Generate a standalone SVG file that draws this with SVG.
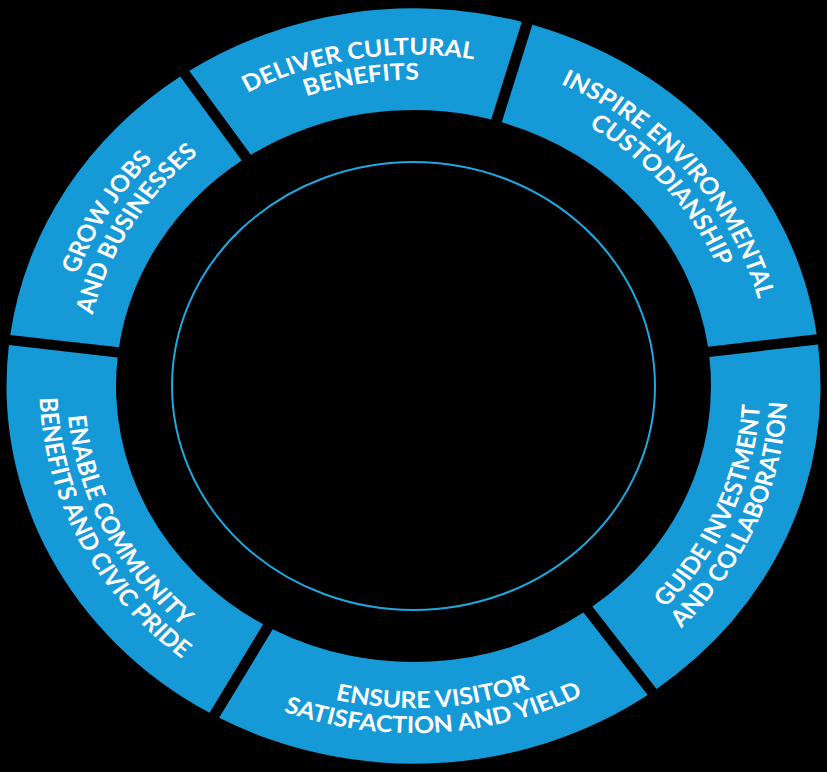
<svg xmlns="http://www.w3.org/2000/svg" xmlns:xlink="http://www.w3.org/1999/xlink" width="827" height="772" viewBox="0 0 827 772">
<style>
.seg{fill:#1699d7}
.lbl{font-family:Lato,"Open Sans","Liberation Sans",sans-serif;font-weight:700;font-size:25px;fill:#ffffff}
.ring{fill:none;stroke:#1fa8e0;stroke-width:2}
</style>
<defs>
<path id="out1" d="M -344.84 -92.40 A 357 357 0 0 1 344.84 -92.40"/>
<path id="out2" d="M -318.76 -85.41 A 330 330 0 0 1 318.76 -85.41"/>
<path id="in1" d="M -335.18 89.81 A 347 347 0 0 0 335.18 89.81"/>
<path id="in2" d="M -361.26 96.80 A 374 374 0 0 0 361.26 96.80"/>
</defs>
<rect x="0" y="0" width="827" height="772" fill="#000000"/>
<ellipse class="ring" cx="413.5" cy="386" rx="241.5" ry="224"/>
<g id="connectors"></g>
<g transform="translate(413.5,386) scale(1,0.928)">
<g id="deliver">
<path class="seg" d="M -224.2 -339.7 A 407 407 0 0 1 108.26 -392.34 L 77.71 -287.17 A 297.5 297.5 0 0 0 -162.64 -249.11 Z"/>
<text class="lbl" text-anchor="middle" transform="rotate(-9)"><textPath xlink:href="#out1" href="#out1" startOffset="50%">DELIVER CULTURAL</textPath></text>
<text class="lbl" text-anchor="middle" transform="rotate(-9)"><textPath xlink:href="#out2" href="#out2" startOffset="50%">BENEFITS</textPath></text>
</g>
<g id="inspire">
<path class="seg" d="M 118.82 -389.27 A 407 407 0 0 1 403.16 -55.76 L 294.49 -42.22 A 297.5 297.5 0 0 0 88.27 -284.10 Z"/>
<text class="lbl" text-anchor="middle" transform="rotate(49.55)"><textPath xlink:href="#out1" href="#out1" startOffset="50%">INSPIRE ENVIRONMENTAL</textPath></text>
<text class="lbl" text-anchor="middle" transform="rotate(49.55)"><textPath xlink:href="#out2" href="#out2" startOffset="50%">CUSTODIANSHIP</textPath></text>
</g>
<g id="guide">
<path class="seg" d="M 404.52 -44.85 A 407 407 0 0 1 243.08 326.43 L 178.87 237.72 A 297.5 297.5 0 0 0 295.85 -31.31 Z"/>
<text class="lbl" text-anchor="middle" transform="rotate(-66.5)"><textPath xlink:href="#in1" href="#in1" startOffset="50%">GUIDE INVESTMENT</textPath></text>
<text class="lbl" text-anchor="middle" transform="rotate(-66.5)"><textPath xlink:href="#in2" href="#in2" startOffset="50%">AND COLLABORATION</textPath></text>
</g>
<g id="ensure">
<path class="seg" d="M 234.18 332.88 A 407 407 0 0 1 -194.37 357.59 L -140.77 262.09 A 297.5 297.5 0 0 0 169.96 244.17 Z"/>
<text class="lbl" text-anchor="middle" transform="rotate(-3.3)"><textPath xlink:href="#in1" href="#in1" startOffset="50%">ENSURE VISITOR</textPath></text>
<text class="lbl" text-anchor="middle" transform="rotate(-3.3)"><textPath xlink:href="#in2" href="#in2" startOffset="50%">SATISFACTION AND YIELD</textPath></text>
</g>
<g id="enable">
<path class="seg" d="M -203.96 352.21 A 407 407 0 0 1 -404.60 -44.14 L -295.90 -30.79 A 297.5 297.5 0 0 0 -150.36 256.71 Z"/>
<text class="lbl" text-anchor="middle" transform="rotate(63.15)"><textPath xlink:href="#in1" href="#in1" startOffset="50%">ENABLE COMMUNITY</textPath></text>
<text class="lbl" text-anchor="middle" transform="rotate(63.15)"><textPath xlink:href="#in2" href="#in2" startOffset="50%">BENEFITS AND CIVIC PRIDE</textPath></text>
</g>
<g id="grow">
<path class="seg" d="M -403.26 -55.05 A 407 407 0 0 1 -233.29 -333.50 L -171.74 -242.93 A 297.5 297.5 0 0 0 -294.56 -41.71 Z"/>
<text class="lbl" text-anchor="middle" transform="rotate(-58.6)"><textPath xlink:href="#out1" href="#out1" startOffset="50%">GROW JOBS</textPath></text>
<text class="lbl" text-anchor="middle" transform="rotate(-58.6)"><textPath xlink:href="#out2" href="#out2" startOffset="50%">AND BUSINESSES</textPath></text>
</g>
</g>
</svg>
